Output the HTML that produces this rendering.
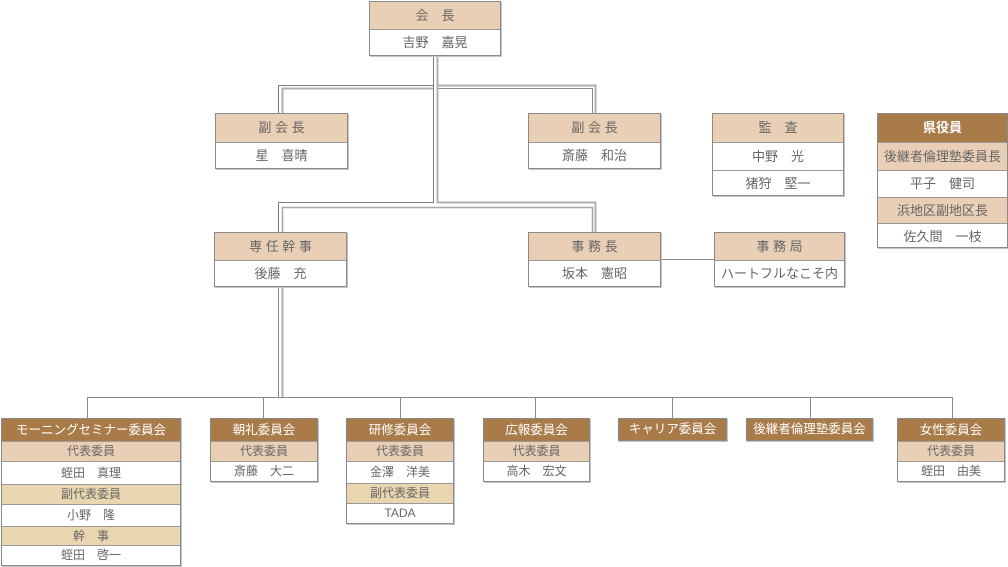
<!DOCTYPE html>
<html><head><meta charset="utf-8">
<style>
html,body{margin:0;padding:0;background:#fff;}
body{width:1008px;height:567px;position:relative;overflow:hidden;font-family:"Liberation Sans","Noto Sans CJK JP",sans-serif;color:#666;}
.b{position:absolute;box-sizing:border-box;border:1px solid #8a8a8a;box-shadow:1px 1px 0 #c4c4c4;background:#fff;}
.r{box-sizing:border-box;text-align:center;white-space:nowrap;overflow:hidden;}
.r+.r{border-top:1px solid #9a9a9a;}
.t .r{font-size:13px;}
.h{background:#e9cfb5;}
.y{background:#e9d6b0;}
.d{background:#a97b48;color:#fff;}
.s .r{font-size:12px;}
svg{position:absolute;left:0;top:0;}
</style></head><body>
<svg width="1008" height="567">
 <g fill="none" stroke-width="1">
  <!-- level 1 -->
  <path d="M433.5 55V85.5H278.5V113" stroke="#7c7c7c"/>
  <path d="M282.5 113V88.5H433.5" stroke="#b0b0b0" stroke-width="2"/>
  <path d="M437.5 55V85.5H595.5V113" stroke="#b0b0b0" stroke-width="2"/>
  <path d="M592.5 113V88.5H437.5" stroke="#8a8a8a"/>
  <!-- trunk -->
  <path d="M433.5 85V202.5H278.5V232" stroke="#7c7c7c"/>
  <path d="M437.5 85V202.5H595.5V232" stroke="#b0b0b0" stroke-width="2"/>
  <path d="M282.5 232V207.5H592.5V232" stroke="#a8a8a8" stroke-width="1.5"/>
  <!-- down from 専任幹事 -->
  <path d="M278.5 287V397" stroke="#8a8a8a"/>
  <path d="M282.5 287V397" stroke="#b0b0b0" stroke-width="2"/>
  <!-- 事務長-事務局 -->
  <path d="M661 259.5H714" stroke="#8a8a8a"/>
  <!-- bottom bus -->
  <path d="M87.5 397.5H952.5" stroke="#8a8a8a"/>
  <path d="M87.5 397V418M263.5 397V418M400.5 397V418M535.5 397V418M672.5 397V418M810.5 397V418M952.5 397V418" stroke="#8a8a8a"/>
 </g>
</svg>

<!-- top level -->
<div class="b t" style="left:369px;top:1px;width:132px;height:55px;">
 <div class="r h" style="height:27px;line-height:27px;">会　長</div>
 <div class="r" style="height:26px;line-height:25px;">吉野　嘉晃</div>
</div>

<div class="b t" style="left:215px;top:113px;width:133px;height:56px;">
 <div class="r h" style="height:28px;line-height:28px;">副 会 長</div>
 <div class="r" style="height:26px;line-height:25px;">星　喜晴</div>
</div>
<div class="b t" style="left:528px;top:113px;width:133px;height:56px;">
 <div class="r h" style="height:28px;line-height:28px;">副 会 長</div>
 <div class="r" style="height:26px;line-height:25px;">斎藤　和治</div>
</div>

<div class="b t" style="left:712px;top:113px;width:132px;height:83px;">
 <div class="r h" style="height:28px;line-height:28px;">監　査</div>
 <div class="r" style="height:28px;line-height:27px;">中野　光</div>
 <div class="r" style="height:27px;line-height:26px;">猪狩　堅一</div>
</div>

<div class="b t" style="left:877px;top:113px;width:131px;height:135px;">
 <div class="r d" style="height:28px;line-height:28px;font-weight:bold;">県役員</div>
 <div class="r h" style="height:28px;line-height:27px;">後継者倫理塾委員長</div>
 <div class="r" style="height:27px;line-height:26px;">平子　健司</div>
 <div class="r h" style="height:26px;line-height:25px;">浜地区副地区長</div>
 <div class="r" style="height:26px;line-height:25px;">佐久間　一枝</div>
</div>

<div class="b t" style="left:214px;top:232px;width:133px;height:55px;">
 <div class="r h" style="height:27px;line-height:27px;">専 任 幹 事</div>
 <div class="r" style="height:27px;line-height:26px;">後藤　充</div>
</div>
<div class="b t" style="left:528px;top:232px;width:133px;height:55px;">
 <div class="r h" style="height:27px;line-height:27px;">事 務 長</div>
 <div class="r" style="height:27px;line-height:26px;">坂本　憲昭</div>
</div>
<div class="b t" style="left:714px;top:232px;width:131px;height:55px;">
 <div class="r h" style="height:27px;line-height:27px;">事 務 局</div>
 <div class="r" style="height:27px;line-height:26px;">ハートフルなこそ内</div>
</div>

<!-- bottom committees -->
<div class="b s" style="left:1px;top:418px;width:180px;height:148px;">
 <div class="r d" style="height:22px;line-height:22px;font-size:12.5px;">モーニングセミナー委員会</div>
 <div class="r h" style="height:20px;line-height:19px;">代表委員</div>
 <div class="r" style="height:23px;line-height:22px;">蛭田　真理</div>
 <div class="r y" style="height:20px;line-height:19px;">副代表委員</div>
 <div class="r" style="height:22px;line-height:21px;">小野　隆</div>
 <div class="r y" style="height:19px;line-height:18px;">幹　事</div>
 <div class="r" style="height:20px;line-height:19px;">蛭田　啓一</div>
</div>

<div class="b s" style="left:210px;top:418px;width:108px;height:64px;">
 <div class="r d" style="height:22px;line-height:22px;font-size:12.5px;">朝礼委員会</div>
 <div class="r h" style="height:20px;line-height:19px;">代表委員</div>
 <div class="r" style="height:20px;line-height:19px;">斎藤　大二</div>
</div>

<div class="b s" style="left:346px;top:418px;width:108px;height:106px;">
 <div class="r d" style="height:22px;line-height:22px;font-size:12.5px;">研修委員会</div>
 <div class="r h" style="height:20px;line-height:19px;">代表委員</div>
 <div class="r" style="height:22px;line-height:21px;">金澤　洋美</div>
 <div class="r y" style="height:20px;line-height:19px;">副代表委員</div>
 <div class="r" style="height:20px;line-height:19px;">TADA</div>
</div>

<div class="b s" style="left:483px;top:418px;width:107px;height:64px;">
 <div class="r d" style="height:22px;line-height:22px;font-size:12.5px;">広報委員会</div>
 <div class="r h" style="height:20px;line-height:19px;">代表委員</div>
 <div class="r" style="height:20px;line-height:19px;">高木　宏文</div>
</div>

<div class="b s" style="left:618px;top:418px;width:109px;height:23px;">
 <div class="r d" style="height:21px;line-height:21px;font-size:12.5px;">キャリア委員会</div>
</div>

<div class="b s" style="left:746px;top:418px;width:127px;height:23px;">
 <div class="r d" style="height:21px;line-height:21px;font-size:12.5px;">後継者倫理塾委員会</div>
</div>

<div class="b s" style="left:897px;top:418px;width:108px;height:64px;">
 <div class="r d" style="height:22px;line-height:22px;font-size:12.5px;">女性委員会</div>
 <div class="r h" style="height:20px;line-height:19px;">代表委員</div>
 <div class="r" style="height:20px;line-height:19px;">蛭田　由美</div>
</div>
</body></html>
